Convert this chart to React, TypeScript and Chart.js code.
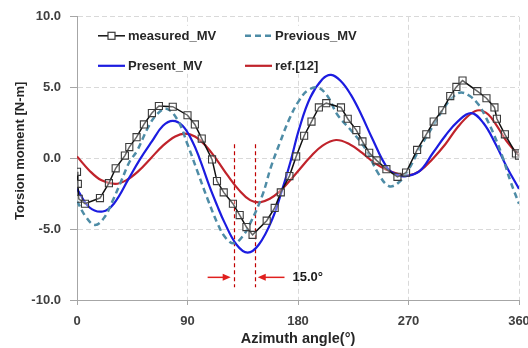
import React, { useEffect, useRef } from "react";
import { Chart, registerables } from "chart.js";

Chart.register(...registerables);

// ---- data ----
const measuredAngles = [0, 0.7, 1.4, 6.5, 18.7, 26, 31.5, 39, 42.6, 48.5, 54.5, 61, 66.7, 78, 90, 96, 101.6, 110, 114, 119.5, 127, 132.5, 138, 143, 154.5, 161, 166, 173, 178.5, 185, 191, 197, 203, 215, 220.5, 227.5, 232.5, 238, 244, 252, 261, 268, 277, 284.5, 290.5, 297.5, 304, 309, 314, 326, 333.5, 340, 342, 348.5, 357.5, 360];
const measuredValues = [-0.95, -1.8, -2.85, -3.2, -2.8, -1.75, -0.7, 0.2, 0.8, 1.5, 2.4, 3.2, 3.7, 3.65, 3.05, 2.4, 1.4, -0.07, -1.6, -2.4, -3.2, -4.0, -4.85, -5.4, -4.4, -3.5, -2.4, -1.25, 0.14, 1.6, 2.6, 3.6, 3.9, 3.6, 2.8, 2.0, 1.2, 0.4, -0.14, -0.76, -1.3, -1.0, 0.6, 1.7, 2.6, 3.4, 4.4, 5.05, 5.5, 4.75, 4.25, 3.6, 2.8, 1.7, 0.35, 0.2];

const previousAngles = [0, 7, 14.6, 22, 29, 36, 43, 48.7, 58, 65, 73, 82, 90, 98, 106.5, 115, 121, 127.5, 134, 141, 151, 158, 165, 173, 181, 188, 196, 204, 212, 224, 235.5, 245, 254, 262, 270, 279, 290, 300, 307, 313, 320, 327, 333, 340, 347, 353, 360];
const previousValues = [-3.0, -4.1, -4.7, -4.2, -3.0, -1.6, -0.2, 0.5, 2.2, 3.1, 3.5, 2.7, 1.0, -0.9, -2.9, -4.7, -5.6, -6.0, -5.6, -4.6, -2.6, -0.6, 1.05, 2.8, 4.1, 4.8, 5.0, 4.4, 3.1, 1.9, 0.6, -1.0, -1.95, -1.7, -0.8, 0.7, 2.3, 3.7, 4.4, 4.65, 4.4, 3.8, 2.9, 1.6, 0.0, -1.6, -3.2];

const presentAngles = [0, 10, 21, 30, 42, 51, 61, 70, 78, 86, 94, 100, 108, 114, 120, 130, 139, 148, 159, 167.5, 174, 181, 190, 200, 207, 215, 223, 231.5, 240, 253, 262, 268, 279, 290, 300, 310, 321, 331, 341, 350, 360];
const presentValues = [-2.15, -3.45, -3.75, -3.2, -1.45, -0.1, 1.2, 2.3, 2.65, 2.3, 1.2, -0.05, -2.0, -3.3, -4.5, -6.1, -6.65, -6.1, -4.3, -2.1, -0.2, 2.1, 4.3, 5.6, 5.9, 5.45, 4.5, 3.1, 1.5, -0.7, -1.2, -1.25, -0.9, 0.4, 1.6, 2.6, 3.2, 2.5, 1.0, -0.6, -2.15];

const refAngles = [0, 10, 20, 31, 40, 50, 60, 70, 80, 88, 96, 105, 114, 123, 132, 141, 149, 157, 165, 172, 181, 190, 200, 211, 222, 232, 242, 252, 262, 270, 279, 290, 300, 310, 320, 327.5, 335, 342, 350, 360];
const refValues = [0.14, -0.85, -1.55, -1.8, -1.55, -0.9, 0.0, 0.9, 1.55, 1.75, 1.55, 0.88, -0.12, -1.24, -2.24, -2.95, -3.1, -2.85, -2.35, -1.7, -0.8, 0.1, 0.9, 1.3, 1.0, 0.4, -0.3, -0.8, -1.1, -1.2, -0.9, 0.0, 1.0, 2.2, 3.1, 3.4, 3.1, 2.3, 1.2, 0.2];

const seriesLabels = ["measured_MV", "Previous_MV", "Present_MV", "ref.[12]"];
const xTickValues = [0, 90, 180, 270, 360];
const yTickValues = [-10, -5, 0, 5, 10];
const xTitle = "Azimuth angle(°)";
const yTitle = "Torsion moment [N-m]";

// phase-shift annotation
const phaseLineAngles = [127.5, 145];
const phaseLineTop = 1.0;
const phaseLineBottom = -9.1;
const arrowLevel = -8.4;
const leftArrow = [106.4, 125.2]; // from -> to (angle)
const rightArrow = [169, 147.2];
const phaseLabel = "15.0°";
const phaseLabelAngle = 175.5;

const FONT = '"Liberation Sans", Arial, sans-serif';

const zip = (xs: number[], ys: number[]) => xs.map((x, i) => ({ x, y: ys[i] }));

const annotationPlugin = {
  id: "phaseAnnotation",
  beforeDatasetsDraw(chart: any) {
    const { ctx, scales } = chart;
    const xs = scales.x, ys = scales.y;
    ctx.save();
    ctx.strokeStyle = "#C00000";
    ctx.lineWidth = 1.2;
    ctx.setLineDash([4, 3]);
    phaseLineAngles.forEach((a) => {
      const px = Math.round(xs.getPixelForValue(a)) + 0.5;
      ctx.beginPath();
      ctx.moveTo(px, ys.getPixelForValue(phaseLineTop));
      ctx.lineTo(px, ys.getPixelForValue(phaseLineBottom));
      ctx.stroke();
    });
    ctx.restore();
  },
  afterDatasetsDraw(chart: any) {
    const { ctx, scales, chartArea } = chart;
    const xs = scales.x, ys = scales.y;
    const py = ys.getPixelForValue(arrowLevel);
    const drawArrow = (a0: number, a1: number) => {
      const x0 = xs.getPixelForValue(a0);
      const x1 = xs.getPixelForValue(a1);
      const dir = Math.sign(x1 - x0);
      ctx.save();
      ctx.strokeStyle = "#E0201E";
      ctx.fillStyle = "#E0201E";
      ctx.lineWidth = 1.5;
      ctx.beginPath();
      ctx.moveTo(x0, py);
      ctx.lineTo(x1 - dir * 6, py);
      ctx.stroke();
      ctx.beginPath();
      ctx.moveTo(x1, py);
      ctx.lineTo(x1 - dir * 8, py - 3.5);
      ctx.lineTo(x1 - dir * 8, py + 3.5);
      ctx.closePath();
      ctx.fill();
      ctx.restore();
    };
    drawArrow(leftArrow[0], leftArrow[1]);
    drawArrow(rightArrow[0], rightArrow[1]);
    ctx.save();
    ctx.fillStyle = "#1a1a1a";
    ctx.font = `bold 13px ${FONT}`;
    ctx.textBaseline = "middle";
    ctx.textAlign = "left";
    ctx.fillText(phaseLabel, xs.getPixelForValue(phaseLabelAngle), py);
    ctx.restore();

    // y-axis title (placed like the reference, slightly above centre)
    ctx.save();
    ctx.translate(20, chartArea.top + 134);
    ctx.rotate(-Math.PI / 2);
    ctx.fillStyle = "#262626";
    ctx.font = `bold 13px ${FONT}`;
    ctx.textAlign = "center";
    ctx.textBaseline = "middle";
    ctx.fillText(yTitle, 0, 0);
    ctx.restore();
  },
};

const legendPlugin = {
  id: "innerLegend",
  afterDatasetsDraw(chart: any) {
    const { ctx, chartArea } = chart;
    const cols = [chartArea.left + 21, chartArea.left + 168];
    const rows = [chartArea.top + 19, chartArea.top + 49];
    ctx.save();
    ctx.fillStyle = "#ffffff";
    ctx.fillRect(chartArea.left + 12, chartArea.top + 9, 240, 48);
    ctx.restore();
    chart.data.datasets.forEach((ds: any, i: number) => {
      const x = cols[i % 2];
      const y = rows[Math.floor(i / 2)];
      ctx.save();
      ctx.strokeStyle = ds.borderColor;
      ctx.lineWidth = ds.borderWidth;
      ctx.setLineDash(ds.borderDash || []);
      ctx.beginPath();
      ctx.moveTo(x, y);
      ctx.lineTo(x + 27, y);
      ctx.stroke();
      ctx.setLineDash([]);
      if (ds.pointRadius > 0) {
        const s = 3.5;
        ctx.fillStyle = "#ffffff";
        ctx.strokeStyle = ds.pointBorderColor;
        ctx.lineWidth = 1.2;
        ctx.fillRect(x + 13.5 - s, y - s, 2 * s, 2 * s);
        ctx.strokeRect(x + 13.5 - s, y - s, 2 * s, 2 * s);
      }
      ctx.fillStyle = "#262626";
      ctx.font = `bold 13px ${FONT}`;
      ctx.textBaseline = "middle";
      ctx.textAlign = "left";
      ctx.fillText(ds.label, x + 30, y + 0.5);
      ctx.restore();
    });
  },
};

export default function App() {
  const canvasRef = useRef<HTMLCanvasElement | null>(null);

  useEffect(() => {
    document.body.style.margin = "0";
    const canvas = canvasRef.current;
    if (!canvas) return;
    const tickFont = { family: FONT, size: 13, weight: "bold" as const };
    const chart = new Chart(canvas, {
      type: "line",
      data: {
        datasets: [
          {
            label: seriesLabels[0],
            data: zip(measuredAngles, measuredValues),
            borderColor: "#111111",
            borderWidth: 1.5,
            pointStyle: "rect",
            pointRadius: 5,
            pointBorderColor: "#3a3a3a",
            pointBackgroundColor: "rgba(255,255,255,0.35)",
            pointBorderWidth: 1.1,
            tension: 0,
          },
          {
            label: seriesLabels[1],
            data: zip(previousAngles, previousValues),
            borderColor: "#4E8CA6",
            borderWidth: 2.5,
            borderDash: [6, 4],
            pointRadius: 0,
            tension: 0.4,
          },
          {
            label: seriesLabels[2],
            data: zip(presentAngles, presentValues),
            borderColor: "#1C1CE0",
            borderWidth: 2.2,
            pointRadius: 0,
            tension: 0.4,
          },
          {
            label: seriesLabels[3],
            data: zip(refAngles, refValues),
            borderColor: "#C0232B",
            borderWidth: 2.2,
            pointRadius: 0,
            tension: 0.4,
          },
        ] as any,
      },
      options: {
        animation: false,
        responsive: false,
        maintainAspectRatio: false,
        layout: { padding: { top: 13, right: 9, left: 0, bottom: 0 } },
        plugins: { legend: { display: false }, tooltip: { enabled: false } },
        scales: {
          x: {
            type: "linear",
            min: 0,
            max: 360,
            afterBuildTicks: (s: any) => { s.ticks = xTickValues.map((v) => ({ value: v })); },
            afterFit: (s: any) => { s.height = 48; s.paddingRight = 0; s.paddingLeft = 0; },
            ticks: {
              font: tickFont,
              color: "#404040",
              padding: 9,
              maxRotation: 0,
              callback: (v: any) => String(v),
            },
            grid: {
              color: "#D9D9D9",
              tickColor: "#A6A6A6",
              tickLength: 5,
              tickBorderDash: [],
            },
            border: { color: "#A6A6A6", width: 1, dash: [5, 3] },
            title: {
              display: true,
              text: xTitle,
              font: { family: FONT, size: 14.5, weight: "bold" },
              color: "#262626",
              padding: { top: 0, bottom: 0 },
            },
          },
          y: {
            type: "linear",
            min: -10,
            max: 10,
            afterBuildTicks: (s: any) => { s.ticks = yTickValues.map((v) => ({ value: v })); },
            afterFit: (s: any) => { s.width = 77; },
            ticks: {
              font: tickFont,
              color: "#404040",
              padding: 9,
              callback: (v: any) => Number(v).toFixed(1),
            },
            grid: {
              color: "#D9D9D9",
              tickColor: "#A6A6A6",
              tickLength: 7,
              tickBorderDash: [],
            },
            border: { color: "#A6A6A6", width: 1, dash: [5, 3] },
            title: { display: false },
          },
        },
      } as any,
      plugins: [annotationPlugin, legendPlugin],
    });
    return () => chart.destroy();
  }, []);

  return (
    <canvas
      ref={canvasRef}
      width={528}
      height={348}
      style={{ display: "block", width: 528, height: 348 }}
    />
  );
}
